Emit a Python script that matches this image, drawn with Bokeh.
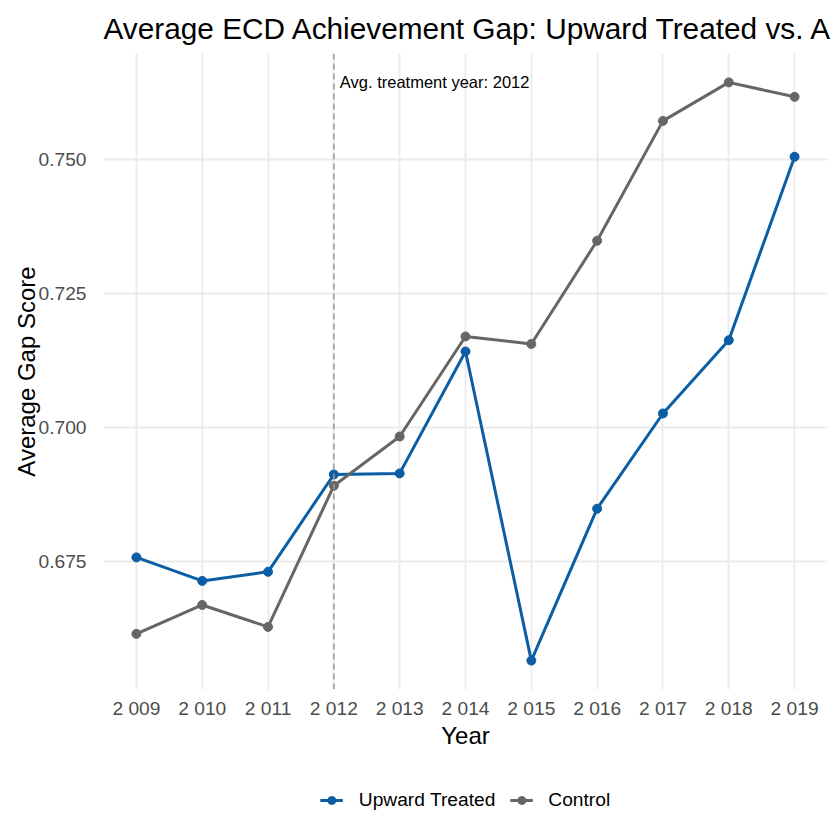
from bokeh.plotting import figure
from bokeh.layouts import column
from bokeh.models import Range1d, FixedTicker, Span, Label, Legend, LegendItem, PrintfTickFormatter
from bokeh.embed import file_html
from bokeh.resources import INLINE

# ---- data ----
years = [2009, 2010, 2011, 2012, 2013, 2014, 2015, 2016, 2017, 2018, 2019]
year_labels = ["2 009", "2 010", "2 011", "2 012", "2 013", "2 014",
               "2 015", "2 016", "2 017", "2 018", "2 019"]
upward_treated = [0.6757, 0.6713, 0.6730, 0.6912, 0.6914, 0.7142,
                  0.6564, 0.6848, 0.7026, 0.7163, 0.7506]
control = [0.6614, 0.6668, 0.6627, 0.6891, 0.6983, 0.7170,
           0.7156, 0.7349, 0.7573, 0.7645, 0.7618]
y_ticks = [0.675, 0.700, 0.725, 0.750]
series_names = ["Upward Treated", "Control"]
treatment_year = 2012
annotation_text = "Avg. treatment year: 2012"
annotation_y = 0.7645
title_text = "Average ECD Achievement Gap: Upward Treated vs. A"
x_label = "Year"
y_label = "Average Gap Score"

FONT = "Liberation Sans"
BLUE = "#0B5EA4"
GREY = "#666666"

p = figure(width=840, height=770, output_backend="svg", toolbar_location=None,
           x_range=Range1d(2008.5, 2019.5), y_range=Range1d(0.6510, 0.7699),
           min_border_left=103, min_border_right=13, min_border_top=53,
           min_border_bottom=81, background_fill_color="white",
           border_fill_color="white")
p.outline_line_color = None

# title
p.title.text = title_text
p.title.text_font = FONT
p.title.text_font_size = "29.8px"
p.title.text_font_style = "normal"
p.title.text_color = "black"
p.title.align = "left"
p.title.standoff = 18

# axes
for ax in (p.xaxis[0], p.yaxis[0]):
    ax.axis_line_color = None
    ax.major_tick_line_color = None
    ax.minor_tick_line_color = None
    ax.major_label_text_font = FONT
    ax.major_label_text_font_size = "19.2px"
    ax.major_label_text_color = "#4D4D4D"
    ax.axis_label_text_font = FONT
    ax.axis_label_text_font_size = "24px"
    ax.axis_label_text_font_style = "normal"
    ax.axis_label_text_color = "black"

p.xaxis.ticker = FixedTicker(ticks=years)
p.xaxis.major_label_overrides = dict(zip(years, year_labels))
p.xaxis.axis_label = x_label
p.xaxis.major_label_standoff = 2
p.xaxis.axis_label_standoff = 0

p.yaxis.ticker = FixedTicker(ticks=y_ticks)
p.yaxis.formatter = PrintfTickFormatter(format="%.3f")
p.yaxis.axis_label = y_label
p.yaxis.major_label_standoff = 11
p.yaxis.axis_label_standoff = -5

# grid
p.xgrid.ticker = FixedTicker(ticks=years)
p.ygrid.ticker = FixedTicker(ticks=y_ticks)
for g in (p.xgrid[0], p.ygrid[0]):
    g.grid_line_color = "#EBEBEB"
    g.grid_line_width = 1.8
    g.minor_grid_line_color = None

# treatment line
p.add_layout(Span(location=treatment_year, dimension="height", line_color="#999999",
                  line_dash="6 4", line_width=1.5))
p.add_layout(Label(x=treatment_year, y=annotation_y, x_offset=6, text=annotation_text,
                   text_font=FONT, text_font_size="16.5px", text_color="black",
                   text_baseline="middle", text_align="left"))

# series
l1 = p.line(years, upward_treated, line_color=BLUE, line_width=3)
s1 = p.scatter(years, upward_treated, size=9, fill_color=BLUE, line_color=BLUE)
l2 = p.line(years, control, line_color=GREY, line_width=3)
s2 = p.scatter(years, control, size=9, fill_color=GREY, line_color=GREY)

# ---- legend strip below the plot ----
q = figure(width=840, height=60, output_backend="svg", toolbar_location=None,
           x_axis_type=None, y_axis_type=None, min_border_left=103,
           min_border_right=13, min_border_top=0, min_border_bottom=0,
           x_range=Range1d(0, 1), y_range=Range1d(0, 1),
           background_fill_color="white", border_fill_color="white")
q.outline_line_color = None
q.xgrid.grid_line_color = None
q.ygrid.grid_line_color = None
# legend key renderers sit outside the visible range; only their legend keys show
k1 = q.line([-5, -4], [-5, -4], line_color=BLUE, line_width=3)
k1s = q.scatter([-5], [-5], size=9, fill_color=BLUE, line_color=BLUE)
k2 = q.line([-5, -4], [-5, -4], line_color=GREY, line_width=3)
k2s = q.scatter([-5], [-5], size=9, fill_color=GREY, line_color=GREY)

legend = Legend(items=[LegendItem(label=series_names[0], renderers=[k1, k1s]),
                       LegendItem(label=series_names[1], renderers=[k2, k2s])],
                orientation="horizontal", location="center")
legend.label_text_font = FONT
legend.label_text_font_size = "19.2px"
legend.label_text_color = "black"
legend.border_line_color = None
legend.background_fill_alpha = 0
legend.glyph_width = 23
legend.label_standoff = 16
legend.spacing = 14
legend.margin = 0
legend.padding = 0
q.add_layout(legend, "center")

open("out.html", "w").write(file_html(column(p, q, spacing=0), INLINE))
